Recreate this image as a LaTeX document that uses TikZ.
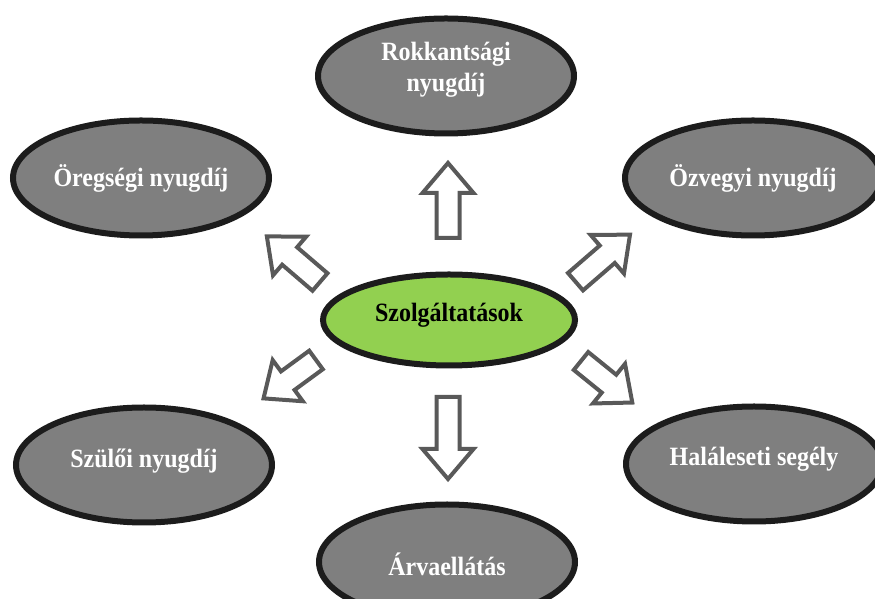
\documentclass[tikz,border=0pt]{standalone}
\usepackage{fontspec}
\setmainfont{Liberation Serif}
\usetikzlibrary{shapes.geometric}
\definecolor{ellgray}{HTML}{7F7F7F}
\definecolor{ellborder}{HTML}{1C1C1C}
\definecolor{ellgreen}{HTML}{92D050}
\definecolor{arrgray}{HTML}{595959}
\tikzset{
  oval/.style={ellipse, draw=ellborder, line width=6pt, fill=ellgray,
    minimum width=256pt, minimum height=115pt, inner sep=0pt},
  ovaltext/.style={text=white, font=\fontsize{24}{28}\selectfont\bfseries, align=center,
    yscale=1.1, transform shape},
  centeroval/.style={ellipse, draw=ellborder, line width=6pt, fill=ellgreen,
    minimum width=252pt, minimum height=91pt, inner sep=0pt},
  arrline/.style={draw=arrgray, fill=white, line width=4pt, line join=miter},
  barrow/.pic={\draw[arrline] (0,-11.5) -- (#1-30,-11.5) -- (#1-30,-25.5) -- (#1,0)
      -- (#1-30,25.5) -- (#1-30,11.5) -- (0,11.5) -- cycle;}
}
\begin{document}
\begin{tikzpicture}[x=1pt,y=1pt]
\useasboundingbox (0,0) rectangle (875,599);
\clip (0,0) rectangle (875,599);
% ellipses
\node[oval] (top) at (446,523) {};
\node[oval] (ul) at (141,421) {};
\node[oval] (ur) at (753,421) {};
\node[oval] (ll) at (144,134) {};
\node[oval] (lr) at (754,135) {};
\node[oval] (bot) at (447,37) {};
\node[centeroval] (ctr) at (449,279) {};
% texts
\node[ovaltext] (ttop) at (446,529) {Rokkantsági\\nyugdíj};
\node[ovaltext] (tul) at (141,421) {Öregségi nyugdíj};
\node[ovaltext] (tur) at (753,421) {Özvegyi nyugdíj};
\node[ovaltext] (tll) at (144,138) {Szülői nyugdíj};
\node[ovaltext] (tlr) at (754,140) {Haláleseti segély};
\node[ovaltext] (tbot) at (447,35) {Árvaellátás};
\node[ovaltext, text=black] (tctr) at (449,284) {Szolgáltatások};
% block arrows
\pic[rotate=90] at (448,361) {barrow=75};
\pic[rotate=-90] at (448,202) {barrow=82};
\pic[rotate=139.4] at (320,317) {barrow=70};
\pic[rotate=40.8] at (575.5,317.3) {barrow=72};
\pic[rotate=-39] at (581,238) {barrow=66};
\pic[rotate=216.2] at (316,239) {barrow=65};
\end{tikzpicture}
\end{document}
